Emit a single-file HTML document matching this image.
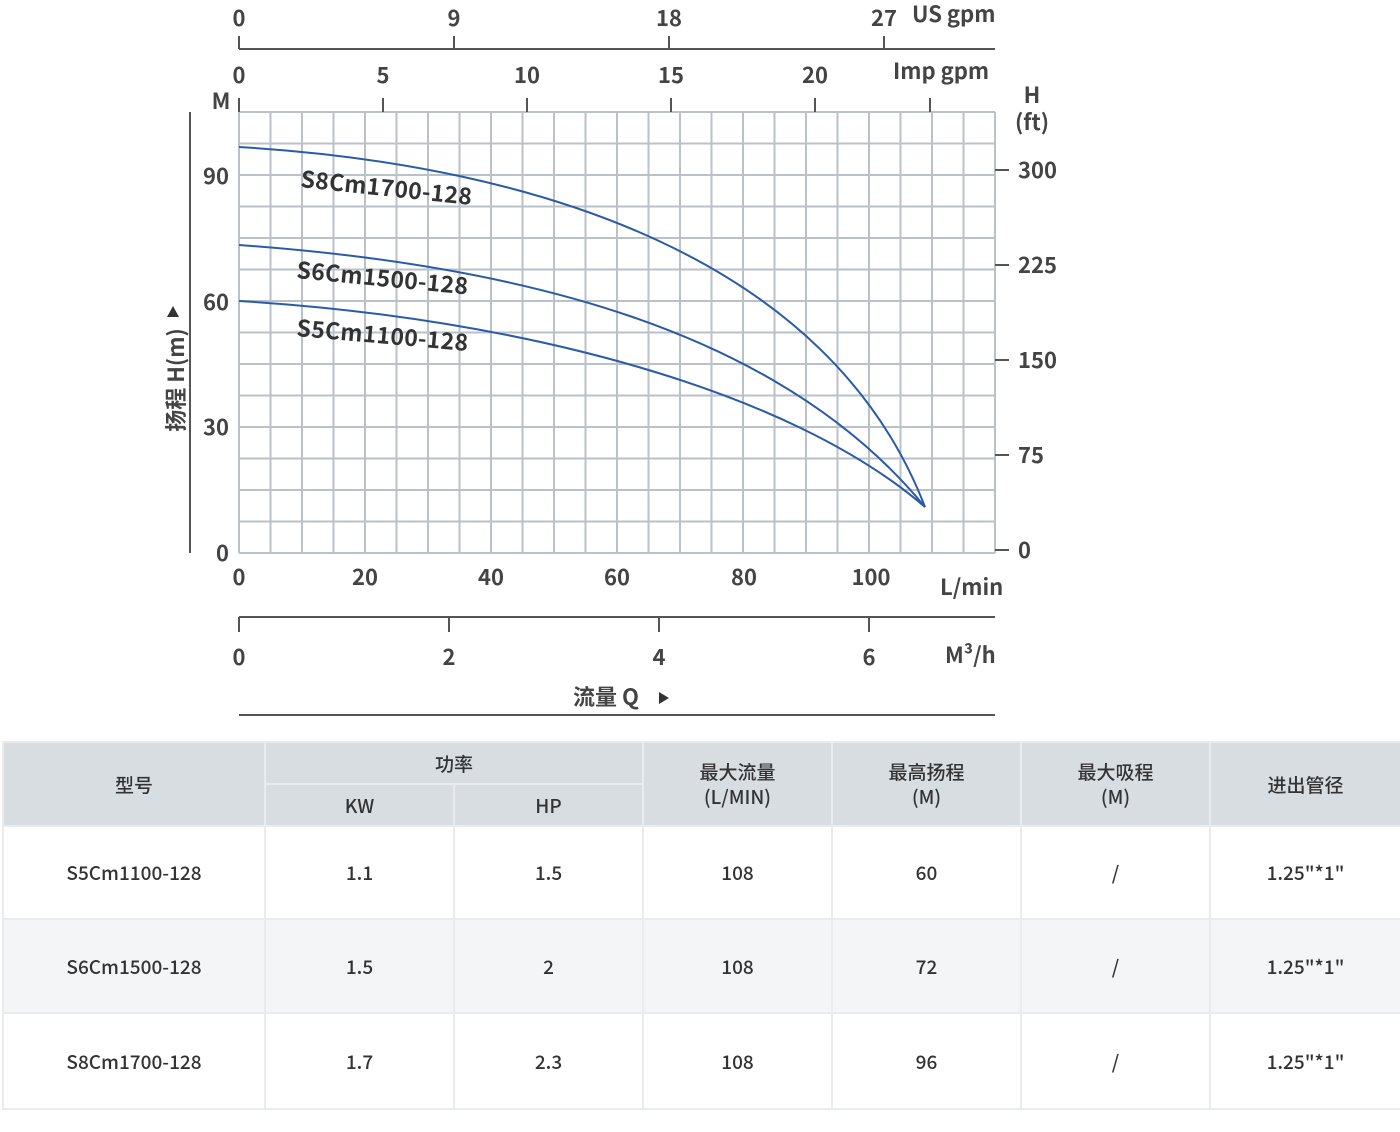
<!DOCTYPE html>
<html><head><meta charset="utf-8"><style>
body{margin:0;background:#fff;width:1400px;height:1132px;overflow:hidden;font-family:"Noto Sans CJK SC","Liberation Sans",sans-serif;}
.c{position:absolute;display:flex;align-items:center;justify-content:center;color:#333;font-size:19px;font-weight:500;text-align:center;line-height:25px;}
.h{background:#d8dde2;}
</style></head><body>
<svg width="1400" height="740" style="position:absolute;left:0;top:0" font-family="Noto Sans CJK SC, Liberation Sans, sans-serif" font-weight="bold" fill="#444">
<g stroke="#b9c1c9" stroke-width="2">
<path d="M239 112V553M270.5 112V553M302 112V553M333.5 112V553M365 112V553M396.5 112V553M428 112V553M459.5 112V553M491 112V553M522.5 112V553M554 112V553M585.5 112V553M617 112V553M648.5 112V553M680 112V553M711.5 112V553M743 112V553M774.5 112V553M806 112V553M837.5 112V553M869 112V553M900.5 112V553M932 112V553M963.5 112V553M995 112V553"/>
<path d="M239 112H995M239 143.5H995M239 175H995M239 206.5H995M239 238H995M239 269.5H995M239 301H995M239 332.5H995M239 364H995M239 395.5H995M239 427H995M239 458.5H995M239 490H995M239 521.5H995M239 553H995"/>
</g>
<g stroke="#555" stroke-width="2" fill="none">
<path d="M239 49H995M239 36V49M454 36V49M669 36V49M884 36V49"/>
<path d="M239 98V112M383 98V112M527 98V112M671 98V112M815 98V112M930 98V112"/>
<path d="M190 112V553"/>
<path d="M995 170H1009M995 265H1009M995 360H1009M995 455H1009M995 550H1009"/>
<path d="M239 617H995M239 617V632M449 617V632M659 617V632M869 617V632"/>
<path d="M239 715H995"/>
</g>
<g stroke="#2a5ba8" stroke-width="2" fill="none" stroke-linejoin="round">
<path d="M239 147C540 165 830 260 925 507"/>
<path d="M239 245C520 265 780 330 925 507"/>
<path d="M239 301C520 318 790 390 925 507"/>
</g>
<g font-size="22">
<text x="239" y="26" text-anchor="middle">0</text><text x="454" y="26" text-anchor="middle">9</text><text x="669" y="26" text-anchor="middle">18</text><text x="884" y="26" text-anchor="middle">27</text>
<text x="912" y="22">US gpm</text>
<text x="239" y="83" text-anchor="middle">0</text><text x="383" y="83" text-anchor="middle">5</text><text x="527" y="83" text-anchor="middle">10</text><text x="671" y="83" text-anchor="middle">15</text><text x="815" y="83" text-anchor="middle">20</text>
<text x="893" y="79">Imp gpm</text>
<text x="221" y="109" text-anchor="middle">M</text>
<text x="1032" y="103" text-anchor="middle">H</text><text x="1032" y="130" text-anchor="middle">(ft)</text>
<text x="229" y="184" text-anchor="end">90</text><text x="229" y="310" text-anchor="end">60</text><text x="229" y="435" text-anchor="end">30</text><text x="229" y="561" text-anchor="end">0</text>
<text x="1018" y="178">300</text><text x="1018" y="273">225</text><text x="1018" y="368">150</text><text x="1018" y="463">75</text><text x="1018" y="558">0</text>
<text x="239" y="585" text-anchor="middle">0</text><text x="365" y="585" text-anchor="middle">20</text><text x="491" y="585" text-anchor="middle">40</text><text x="617" y="585" text-anchor="middle">60</text><text x="744" y="585" text-anchor="middle">80</text><text x="871" y="585" text-anchor="middle">100</text>
<text x="940" y="595">L/min</text>
<text x="239" y="665" text-anchor="middle">0</text><text x="449" y="665" text-anchor="middle">2</text><text x="659" y="665" text-anchor="middle">4</text><text x="869" y="665" text-anchor="middle">6</text>
<text x="945" y="663">M³/h</text>
<text x="573" y="705">流量 Q</text>
<text x="184" y="380" transform="rotate(-90 184 380)" text-anchor="middle">扬程 H(m)</text>
</g>
<path d="M659 692L669 698L659 704Z" fill="#333"/>
<path d="M167 317L173 306L179 317Z" fill="#333"/>
<g font-size="23" fill="#333">
<text x="300" y="187" transform="rotate(6 300 187)" textLength="172">S8Cm1700-128</text>
<text x="296" y="278" transform="rotate(5.5 296 278)" textLength="172">S6Cm1500-128</text>
<text x="296" y="336" transform="rotate(5 296 336)" textLength="172">S5Cm1100-128</text>
</g>
</svg>
<div style="position:absolute;left:2px;top:741px;width:1398px;height:369px;background:#e9ecef"></div>
<div class="c h" style="left:4px;top:743px;width:260px;height:82px">型号</div>
<div class="c h" style="left:266px;top:743px;width:376px;height:40px">功率</div>
<div class="c h" style="left:266px;top:785px;width:187px;height:40px">KW</div>
<div class="c h" style="left:455px;top:785px;width:187px;height:40px">HP</div>
<div class="c h" style="left:644px;top:743px;width:187px;height:82px">最大流量<br>(L/MIN)</div>
<div class="c h" style="left:833px;top:743px;width:187px;height:82px">最高扬程<br>(M)</div>
<div class="c h" style="left:1022px;top:743px;width:187px;height:82px">最大吸程<br>(M)</div>
<div class="c h" style="left:1211px;top:743px;width:189px;height:82px">进出管径</div>
<div class="c" style="left:4px;top:827px;width:260px;height:91px;background:#fff">S5Cm1100-128</div>
<div class="c" style="left:266px;top:827px;width:187px;height:91px;background:#fff">1.1</div>
<div class="c" style="left:455px;top:827px;width:187px;height:91px;background:#fff">1.5</div>
<div class="c" style="left:644px;top:827px;width:187px;height:91px;background:#fff">108</div>
<div class="c" style="left:833px;top:827px;width:187px;height:91px;background:#fff">60</div>
<div class="c" style="left:1022px;top:827px;width:187px;height:91px;background:#fff">/</div>
<div class="c" style="left:1211px;top:827px;width:189px;height:91px;background:#fff">1.25"*1"</div>
<div class="c" style="left:4px;top:920px;width:260px;height:92px;background:#f4f5f7">S6Cm1500-128</div>
<div class="c" style="left:266px;top:920px;width:187px;height:92px;background:#f4f5f7">1.5</div>
<div class="c" style="left:455px;top:920px;width:187px;height:92px;background:#f4f5f7">2</div>
<div class="c" style="left:644px;top:920px;width:187px;height:92px;background:#f4f5f7">108</div>
<div class="c" style="left:833px;top:920px;width:187px;height:92px;background:#f4f5f7">72</div>
<div class="c" style="left:1022px;top:920px;width:187px;height:92px;background:#f4f5f7">/</div>
<div class="c" style="left:1211px;top:920px;width:189px;height:92px;background:#f4f5f7">1.25"*1"</div>
<div class="c" style="left:4px;top:1014px;width:260px;height:94px;background:#fff">S8Cm1700-128</div>
<div class="c" style="left:266px;top:1014px;width:187px;height:94px;background:#fff">1.7</div>
<div class="c" style="left:455px;top:1014px;width:187px;height:94px;background:#fff">2.3</div>
<div class="c" style="left:644px;top:1014px;width:187px;height:94px;background:#fff">108</div>
<div class="c" style="left:833px;top:1014px;width:187px;height:94px;background:#fff">96</div>
<div class="c" style="left:1022px;top:1014px;width:187px;height:94px;background:#fff">/</div>
<div class="c" style="left:1211px;top:1014px;width:189px;height:94px;background:#fff">1.25"*1"</div>
</body></html>
